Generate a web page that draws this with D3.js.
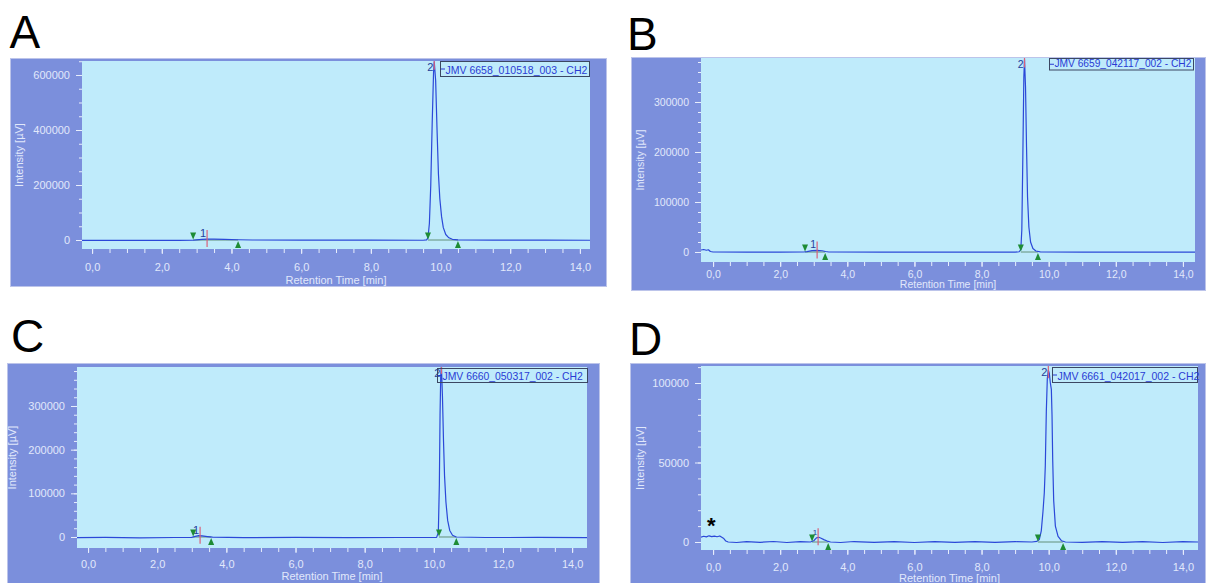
<!DOCTYPE html>
<html>
<head>
<meta charset="utf-8">
<script src="https://cdn.jsdelivr.net/npm/d3@7"></script>
<style>
  html, body { margin: 0; padding: 0; background: #ffffff; }
  svg { display: block; }
  text { font-family: "Liberation Sans", Arial, sans-serif; }
</style>
</head>
<body>
<svg id="chart" width="1206" height="583"></svg>
<script>
// ---- Data -----------------------------------------------------------------
const panelLetters = ["A", "B", "C", "D"];
const sampleNames = [
  "JMV 6658_010518_003 - CH2",
  "JMV 6659_042117_002 - CH2",
  "JMV 6660_050317_002 - CH2",
  "JMV 6661_042017_002 - CH2"
];

const xTickValues = [0, 2, 4, 6, 8, 10, 12, 14];
const xTickLabels = ["0,0", "2,0", "4,0", "6,0", "8,0", "10,0", "12,0", "14,0"];

const yTicksA = [0, 200000, 400000, 600000];
const yTicksB = [0, 100000, 200000, 300000];
const yTicksC = [0, 100000, 200000, 300000];
const yTicksD = [0, 50000, 100000];

// chromatogram traces: [retention time (min), intensity (µV)]
const traceA = [
  [-0.29, -1500], [0.5, -1200], [1.5, -1000], [2.5, -1000], [2.9, -800], [3.0, 500],
  [3.15, 2500], [3.3, 3500], [3.5, 3000], [3.8, 2200], [4.2, 1000], [4.6, 0],
  [6.0, -500], [8.0, -600], [9.5, -800], [9.6, 500], [9.64, 8000], [9.68, 60000],
  [9.72, 200000], [9.76, 420000], [9.8, 610000], [9.82, 648000], [9.86, 580000],
  [9.9, 400000], [9.94, 240000], [9.98, 150000], [10.03, 85000], [10.08, 45000],
  [10.15, 20000], [10.24, 8000], [10.34, 2500], [10.5, 500], [11.5, -500],
  [13.0, -700], [14.29, -800]
];
const traceB = [
  [-0.36, 4000], [-0.28, 5000], [-0.2, 3500], [-0.14, 4500], [-0.08, 1000], [0.0, 0],
  [1.0, -300], [2.0, -300], [2.7, 0], [2.8, 800], [2.95, 2800], [3.1, 3200],
  [3.25, 2500], [3.35, 1000], [3.45, 0], [5.0, -200], [7.0, -300], [9.0, -200],
  [9.12, 500], [9.17, 5000], [9.2, 45000], [9.23, 190000], [9.26, 350000],
  [9.28, 385000], [9.31, 330000], [9.34, 210000], [9.37, 110000], [9.41, 50000],
  [9.46, 20000], [9.53, 7000], [9.62, 2000], [9.75, 300], [11.0, -200],
  [13.0, -300], [14.36, -300]
];
const traceC = [
  [-0.32, -1500], [0.5, -1000], [1.5, -1800], [2.5, -1200], [3.0, -800], [3.1, 1500],
  [3.2, 3000], [3.3, 2500], [3.45, 1000], [3.6, -500], [4.5, -1500], [6.0, -1000],
  [7.5, -1500], [9.0, -1200], [10.08, -800], [10.13, 10000], [10.16, 120000],
  [10.18, 280000], [10.2, 370000], [10.22, 392000], [10.25, 320000], [10.28, 220000],
  [10.31, 140000], [10.35, 80000], [10.4, 38000], [10.46, 15000], [10.54, 4000],
  [10.65, 0], [11.5, -1200], [13.0, -1000], [14.43, -1500]
];
const traceD = [
  [-0.36, 3000], [-0.28, 3600], [-0.2, 3200], [-0.12, 3900], [-0.04, 3400], [0.04, 3700],
  [0.12, 3300], [0.2, 3800], [0.26, 3000], [0.32, 2200], [0.38, 600], [0.45, 0],
  [0.7, -300], [1.0, 200], [1.4, -200], [1.8, 300], [2.2, -300], [2.6, 200], [2.9, 0],
  [3.0, 800], [3.08, 2600], [3.15, 3000], [3.22, 2400], [3.3, 1500], [3.4, 600],
  [3.5, 0], [3.8, -300], [4.2, 300], [4.8, -200], [5.4, 200], [6.0, -300], [6.6, 250],
  [7.2, -200], [7.8, 300], [8.4, -250], [9.0, 200], [9.5, 0], [9.65, 400], [9.72, 1500],
  [9.78, 7000], [9.83, 19000], [9.87, 31000], [9.9, 48000], [9.93, 82000], [9.96, 103000],
  [9.99, 108000], [10.02, 106000], [10.05, 100000], [10.08, 96000], [10.1, 80000],
  [10.12, 52000], [10.15, 26000], [10.2, 10000], [10.28, 3500], [10.38, 800], [10.5, 0],
  [11.0, -250], [11.6, 300], [12.2, -200], [12.8, 250], [13.4, -300], [14.0, 200], [14.45, 0]
];

// integrated peaks: retention time, start and end of integration (min)
const peakRtA = [3.30, 9.82], peakStartA = [2.90, 9.64], peakEndA = [4.19, 10.50];
const peakRtB = [3.10, 9.28], peakStartB = [2.74, 9.17], peakEndB = [3.34, 9.68];
const peakRtC = [3.24, 10.22], peakStartC = [3.04, 10.15], peakEndC = [3.56, 10.65];
const peakRtD = [3.13, 9.99], peakStartD = [2.95, 9.68], peakEndD = [3.43, 10.43];

// ---- Layout ---------------------------------------------------------------
const COL = {
  frame: "#7b8fdc", frameEdge: "#bcc4ea", plot: "#bfebfb", axisText: "#e1e8fb",
  tick: "#e8eefc", trace: "#2b48d8", marker: "#d9607a", peakLabel: "#23409a",
  legendText: "#2a3bd4", legendEdge: "#3b4763", start: "#1e8c35", base: "#4d7a5a"
};

const panels = [
  { trace: traceA, yTicks: yTicksA, rt: peakRtA, st: peakStartA, en: peakEndA,
    frame: [10, 58, 597, 229], plot: [82, 61, 508, 188], xd: [-0.29, 14.29], yd: [-32700, 650900],
    yMinor: 50000, labelDy: 22, titleDy: 35, yTitleX: 19, font: 11,
    legend: [440, 61, 149, 15], legendFont: 10.5, letter: [9.5, 48] },
  { trace: traceB, yTicks: yTicksB, rt: peakRtB, st: peakStartB, en: peakEndB,
    frame: [631, 57, 575, 234], plot: [701, 58, 494, 204], xd: [-0.36, 14.36], yd: [-20000, 388000],
    yMinor: 20000, labelDy: 16, titleDy: 26, yTitleX: 640, font: 10.5,
    legend: [1049, 58, 144, 11.5], legendFont: 10.2, letter: [627, 50] },
  { trace: traceC, yTicks: yTicksC, rt: peakRtC, st: peakStartC, en: peakEndC,
    frame: [7, 363, 593, 230], plot: [77, 367, 510, 181], xd: [-0.32, 14.43], yd: [-25200, 389300],
    yMinor: 20000, labelDy: 20, titleDy: 32, yTitleX: 12, font: 11,
    legend: [437, 368, 150, 14], legendFont: 10.4, letter: [11, 352] },
  { trace: traceD, yTicks: yTicksD, rt: peakRtD, st: peakStartD, en: peakEndD,
    frame: [630, 363, 576, 230], plot: [701, 366, 497, 184], xd: [-0.36, 14.45], yd: [-5030, 110700],
    yMinor: 10000, labelDy: 21, titleDy: 32, yTitleX: 640, font: 11,
    legend: [1052, 367, 145, 15], legendFont: 10.5, letter: [629, 355] }
];

const svg = d3.select("#chart");
const defs = svg.append("defs");

panels.forEach((p, i) => {
  const [fx, fy, fw, fh] = p.frame;
  const [px, py, pw, ph] = p.plot;
  const g = svg.append("g");

  // panel letter
  svg.append("text")
    .attr("x", p.letter[0]).attr("y", p.letter[1])
    .attr("font-size", 46).attr("fill", "#000")
    .text(panelLetters[i]);

  // outer frame and plotting area
  g.append("rect")
    .attr("x", fx + 0.5).attr("y", fy + 0.5).attr("width", fw - 1).attr("height", fh - 1)
    .attr("fill", COL.frame).attr("stroke", COL.frameEdge).attr("stroke-width", 1);
  g.append("rect")
    .attr("x", px).attr("y", py).attr("width", pw).attr("height", ph)
    .attr("fill", COL.plot);

  const x = d3.scaleLinear().domain(p.xd).range([px, px + pw]);
  const y = d3.scaleLinear().domain(p.yd).range([py + ph, py]);

  const clipId = "clip-" + panelLetters[i];
  defs.append("clipPath").attr("id", clipId)
    .append("rect").attr("x", px).attr("y", py).attr("width", pw).attr("height", ph);

  // y axis: minor and labelled ticks
  const yMinorVals = d3.range(0, p.yd[1], p.yMinor);
  const yMinor = g.append("g").attr("transform", `translate(${px},0)`)
    .call(d3.axisLeft(y).tickValues(yMinorVals).tickSize(3).tickFormat(""));
  const yMajor = g.append("g").attr("transform", `translate(${px},0)`)
    .call(d3.axisLeft(y).tickValues(p.yTicks).tickSize(6).tickPadding(6).tickFormat(d3.format("d")));
  [yMinor, yMajor].forEach(a => {
    a.select(".domain").remove();
    a.selectAll("line").attr("stroke", COL.tick).attr("stroke-width", 1);
  });
  yMajor.selectAll("text").attr("fill", COL.axisText).attr("font-size", p.font)
    .attr("font-family", "Liberation Sans, Arial, sans-serif");

  // x axis: half-minute ticks, labelled every 2 min
  const xMinorVals = d3.range(0, 14.01, 0.5);
  const xMinor = g.append("g").attr("transform", `translate(0,${py + ph})`)
    .call(d3.axisBottom(x).tickValues(xMinorVals).tickSize(4).tickFormat(""));
  const xMajor = g.append("g").attr("transform", `translate(0,${py + ph})`)
    .call(d3.axisBottom(x).tickValues(xTickValues).tickSize(5)
      .tickFormat((d, k) => xTickLabels[k]));
  [xMinor, xMajor].forEach(a => {
    a.select(".domain").remove();
    a.selectAll("line").attr("stroke", COL.tick).attr("stroke-width", 1);
  });
  xMajor.selectAll("text").attr("fill", COL.axisText).attr("font-size", p.font)
    .attr("y", p.labelDy).attr("dy", null)
    .attr("font-family", "Liberation Sans, Arial, sans-serif");

  // axis titles
  g.append("text")
    .attr("x", px + pw / 2).attr("y", py + ph + p.titleDy)
    .attr("text-anchor", "middle").attr("font-size", p.font).attr("fill", COL.axisText)
    .text("Retention Time [min]");
  g.append("text")
    .attr("transform", `translate(${p.yTitleX},${py + ph / 2}) rotate(-90)`)
    .attr("text-anchor", "middle").attr("dominant-baseline", "central")
    .attr("font-size", p.font).attr("fill", COL.axisText)
    .text("Intensity [µV]");

  const clipped = g.append("g").attr("clip-path", `url(#${clipId})`);
  const y0 = y(0);

  // integration baselines
  p.rt.forEach((rt, k) => {
    clipped.append("line")
      .attr("x1", x(p.st[k])).attr("x2", x(p.en[k]))
      .attr("y1", y0).attr("y2", y0)
      .attr("stroke", COL.base).attr("stroke-width", 1).attr("opacity", 0.8);
  });

  // chromatogram trace
  clipped.append("path")
    .datum(p.trace)
    .attr("d", d3.line().x(d => x(d[0])).y(d => y(d[1])))
    .attr("fill", "none").attr("stroke", COL.trace).attr("stroke-width", 1.2)
    .attr("stroke-linejoin", "round");

  // peak apex markers, numbers and integration limits
  p.rt.forEach((rt, k) => {
    const inPeak = p.trace.filter(d => d[0] >= p.st[k] && d[0] <= p.en[k]);
    const apex = d3.max(inPeak, d => d[1]);
    const ya = y(apex);
    const xr = x(rt);
    clipped.append("line")
      .attr("x1", xr).attr("x2", xr).attr("y1", ya - 9).attr("y2", ya + 8)
      .attr("stroke", COL.marker).attr("stroke-width", 1.2);
    const lf = (i === 3 && k === 0) ? 8 : p.font;
    g.append("text")
      .attr("x", xr - 1).attr("y", Math.max(ya - 2, py + p.font * 0.95))
      .attr("text-anchor", "end").attr("font-size", lf).attr("fill", COL.peakLabel)
      .text(k + 1);

    const xs = x(p.st[k]), xe = x(p.en[k]);
    g.append("path")
      .attr("d", `M${xs - 3},${y0 - 7.5}L${xs + 3},${y0 - 7.5}L${xs},${y0 - 0.5}Z`)
      .attr("fill", COL.start);
    g.append("path")
      .attr("d", `M${xe - 3},${y0 + 8}L${xe + 3},${y0 + 8}L${xe},${y0 + 1}Z`)
      .attr("fill", COL.start);
  });

  // sample legend
  const [lx, ly, lw, lh] = p.legend;
  g.append("rect")
    .attr("x", lx + 0.5).attr("y", ly + 0.5).attr("width", lw).attr("height", lh)
    .attr("fill", "none").attr("stroke", COL.legendEdge).attr("stroke-width", 1);
  g.append("line")
    .attr("x1", lx + 1).attr("x2", lx + 5).attr("y1", ly + lh / 2 + 0.5).attr("y2", ly + lh / 2 + 0.5)
    .attr("stroke", COL.legendText).attr("stroke-width", 1);
  g.append("text")
    .attr("x", lx + 5.5).attr("y", ly + lh - 2.5)
    .attr("font-size", p.legendFont).attr("fill", COL.legendText)
    .text(sampleNames[i]);
});

// injection artefact in panel D
svg.append("text")
  .attr("x", 707).attr("y", 533)
  .attr("font-size", 22).attr("font-weight", "bold").attr("fill", "#000")
  .text("*");
</script>
</body>
</html>
